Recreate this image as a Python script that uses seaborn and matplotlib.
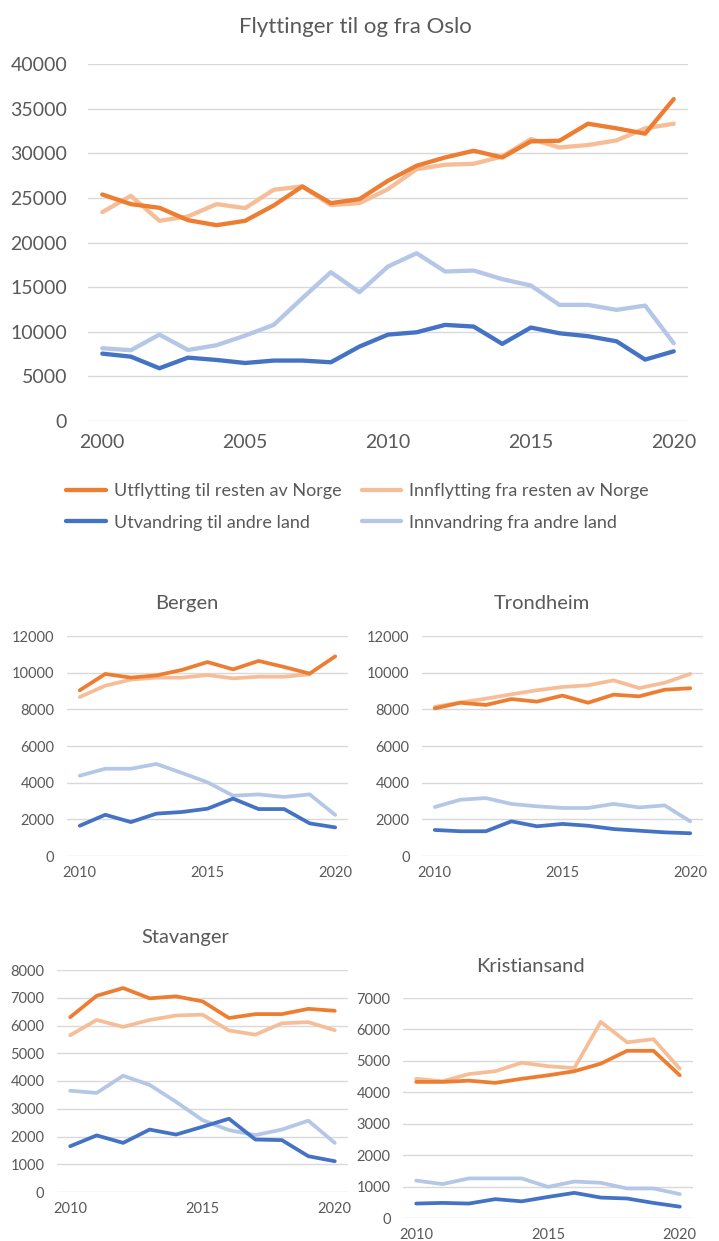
import numpy as np
import pandas as pd
import matplotlib.pyplot as plt
import seaborn as sns

# series names (legend labels)
UT_NORGE = "Utflytting til resten av Norge"
INN_NORGE = "Innflytting fra resten av Norge"
UT_LAND = "Utvandring til andre land"
INN_LAND = "Innvandring fra andre land"

# Oslo 2000-2020
oslo_years = list(range(2000, 2021))
oslo_ut_norge = [25380, 24300, 23890, 22500, 21940, 22430, 24150, 26280, 24410, 24860, 26920,
                 28600, 29530, 30280, 29530, 31330, 31400, 33310, 32790, 32190, 36070]
oslo_inn_norge = [23400, 25230, 22430, 22920, 24300, 23850, 25910, 26280, 24190, 24410, 25980,
                  28220, 28710, 28820, 29640, 31590, 30650, 30920, 31440, 32790, 33310]
oslo_ut_land = [7550, 7210, 5910, 7100, 6840, 6500, 6770, 6770, 6580, 8340, 9680,
                9940, 10770, 10580, 8640, 10470, 9830, 9500, 8930, 6880, 7810]
oslo_inn_land = [8150, 7930, 9680, 7960, 8490, 9570, 10770, 13760, 16670, 14430, 17310,
                 18800, 16750, 16860, 15890, 15180, 13010, 13010, 12450, 12930, 8710]

# other cities 2010-2020
city_years = list(range(2010, 2021))

bergen_ut_norge = [9040, 9930, 9730, 9850, 10150, 10580, 10180, 10640, 10310, 9950, 10890]
bergen_inn_norge = [8670, 9290, 9620, 9730, 9730, 9870, 9690, 9780, 9780, 9910, np.nan]
bergen_ut_land = [1650, 2250, 1850, 2310, 2400, 2580, 3130, 2560, 2560, 1780, 1560]
bergen_inn_land = [4380, 4760, 4760, 5020, 4530, 4020, 3290, 3360, 3220, 3360, 2240]

trondheim_ut_norge = [8050, 8360, 8240, 8560, 8420, 8750, 8360, 8800, 8710, 9070, 9150]
trondheim_inn_norge = [8130, 8380, 8580, 8820, 9040, 9220, 9310, 9580, 9160, 9450, 9930]
trondheim_ut_land = [1420, 1350, 1350, 1890, 1620, 1750, 1650, 1470, 1380, 1290, 1240]
trondheim_inn_land = [2670, 3070, 3160, 2840, 2710, 2620, 2620, 2840, 2650, 2760, 1890]

stavanger_ut_norge = [6300, 7070, 7350, 6980, 7050, 6870, 6270, 6410, 6410, 6600, 6530]
stavanger_inn_norge = [5650, 6200, 5950, 6200, 6360, 6390, 5820, 5670, 6080, 6120, 5830]
stavanger_ut_land = [1650, 2040, 1770, 2250, 2070, 2350, 2640, 1890, 1870, 1290, 1110]
stavanger_inn_land = [3650, 3570, 4190, 3860, 3250, 2590, 2230, 2050, 2250, 2570, 1770]

kristiansand_ut_norge = [4330, 4330, 4370, 4300, 4430, 4540, 4670, 4910, 5320, 5320, 4540]
kristiansand_inn_norge = [4430, 4350, 4580, 4670, 4940, 4830, 4770, 6240, 5590, 5690, 4750]
kristiansand_ut_land = [460, 480, 460, 600, 530, 670, 800, 650, 620, 480, 360]
kristiansand_inn_land = [1190, 1080, 1260, 1260, 1260, 990, 1160, 1120, 940, 940, 760]

palette = {UT_NORGE: "#ED7D31", INN_NORGE: "#F6BE98",
           UT_LAND: "#4472C4", INN_LAND: "#B4C7E7"}
draw_order = [INN_NORGE, UT_NORGE, INN_LAND, UT_LAND]
legend_order = [UT_NORGE, UT_LAND, INN_NORGE, INN_LAND]

TEXT = "#595959"
GRID = "#D9D9D9"
W, H = 719, 1241


def long_df(years, ut_norge, inn_norge, ut_land, inn_land):
    frames = []
    for name, vals in [(UT_NORGE, ut_norge), (INN_NORGE, inn_norge),
                       (UT_LAND, ut_land), (INN_LAND, inn_land)]:
        frames.append(pd.DataFrame({"year": years, "value": vals, "serie": name}))
    return pd.concat(frames, ignore_index=True)


def box(left, right, top, bottom):
    return [left / W, 1 - bottom / H, (right - left) / W, (bottom - top) / H]


def draw_panel(fig, rect, df, ymax, ystep, years, lw, fs, ypad, xpad):
    ax = fig.add_axes(rect)
    sns.lineplot(data=df, x="year", y="value", hue="serie", hue_order=draw_order,
                 palette=palette, linewidth=lw, errorbar=None, ax=ax,
                 solid_capstyle="round", solid_joinstyle="round")
    ax.set_ylim(0, ymax)
    ax.set_yticks(np.arange(0, ymax + 1, ystep))
    ax.set_xlim(years[0] - 0.5, years[-1] + 0.5)
    ax.set_xticks([y for y in years if y % 5 == 0])
    ax.set_xlabel("")
    ax.set_ylabel("")
    ax.grid(axis="y", color=GRID, linewidth=1.0)
    ax.grid(axis="x", visible=False)
    ax.set_axisbelow(True)
    for s in ax.spines.values():
        s.set_visible(False)
    ax.tick_params(axis="both", length=0, labelsize=fs, colors=TEXT)
    ax.tick_params(axis="y", pad=ypad)
    ax.tick_params(axis="x", pad=xpad)
    ax.set_facecolor("white")
    return ax


sns.set_style("white")
plt.rcParams["font.family"] = ["Lato", "DejaVu Sans"]

fig = plt.figure(figsize=(W / 100, H / 100), dpi=100)

oslo_df = long_df(oslo_years, oslo_ut_norge, oslo_inn_norge, oslo_ut_land, oslo_inn_land)
ax_oslo = draw_panel(fig, box(88, 688, 64, 421), oslo_df, 40000, 5000, oslo_years,
                     3.1, 14, 15, 9)
handles, labels = ax_oslo.get_legend_handles_labels()
ax_oslo.get_legend().remove()
hmap = dict(zip(labels, handles))
fig.legend([hmap[k] for k in legend_order], legend_order, loc="upper left",
           bbox_to_anchor=(50 / W, 1 - 467 / H), ncol=2, frameon=False,
           fontsize=13, labelcolor=TEXT, handlelength=2.2, handletextpad=0.45,
           columnspacing=1.1, labelspacing=0.85)
fig.text(355 / W, 1 - 27 / H, "Flyttinger til og fra Oslo", ha="center", va="center",
         fontsize=16, color=TEXT)

panels = [
    ("Bergen", (67, 348, 636, 856), (187, 604), 12000, 2000,
     (bergen_ut_norge, bergen_inn_norge, bergen_ut_land, bergen_inn_land)),
    ("Trondheim", (422, 703, 636, 856), (542, 604), 12000, 2000,
     (trondheim_ut_norge, trondheim_inn_norge, trondheim_ut_land, trondheim_inn_land)),
    ("Stavanger", (57, 348, 970, 1192), (185, 938), 8000, 1000,
     (stavanger_ut_norge, stavanger_inn_norge, stavanger_ut_land, stavanger_inn_land)),
    ("Kristiansand", (403, 693, 998, 1218), (530, 967), 7000, 1000,
     (kristiansand_ut_norge, kristiansand_inn_norge, kristiansand_ut_land,
      kristiansand_inn_land)),
]

for name, (l, r, t, b), (tx, ty), ymax, ystep, series in panels:
    df = long_df(city_years, *series)
    ax = draw_panel(fig, box(l, r, t, b), df, ymax, ystep, city_years, 2.7, 10.5, 9, 7)
    ax.get_legend().remove()
    fig.text(tx / W, 1 - ty / H, name, ha="center", va="center", fontsize=14.5, color=TEXT)

fig.savefig("out.png", dpi=100, facecolor="white")
